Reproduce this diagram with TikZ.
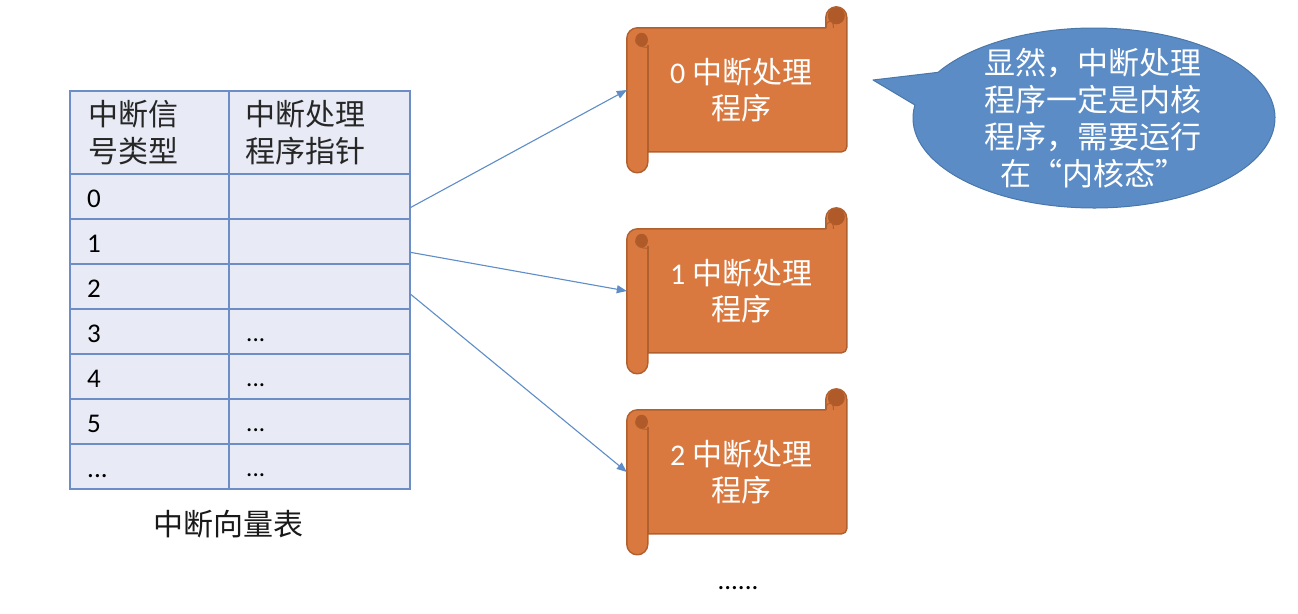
\documentclass[tikz,border=0pt]{standalone}
\usepackage{fontspec}
\setmainfont{Carlito}
\newfontfamily\cjk{Noto Sans CJK SC}
\usetikzlibrary{arrows.meta,calc}
\definecolor{tblfill}{HTML}{E8EBF5}
\definecolor{tblline}{HTML}{6C8DC6}
\definecolor{arrowblue}{HTML}{5E8DC8}
\definecolor{scrollfill}{HTML}{D9793F}
\definecolor{scrolldark}{HTML}{B05A29}
\definecolor{scrollline}{HTML}{B0602E}
\definecolor{calloutfill}{HTML}{5B8CC6}
\definecolor{calloutline}{HTML}{4A77AA}
\newcommand\drawscroll[1]{%
  \begin{scope}[shift={(#1.north west)}]
    \filldraw[fill=scrollfill, draw=scrollline, line width=1.4pt, line join=round]
      (0,31.5) arc[start angle=180, end angle=270, radius=10.5]
      -- (199,21) -- (199,10.5) arc[start angle=180, end angle=360, radius=10.5]
      -- (220,140) arc[start angle=0, end angle=90, radius=5]
      -- (21,145) -- (21,155.5) arc[start angle=0, end angle=180, radius=10.5]
      -- cycle;
    % top-right curl
    \fill[scrolldark] (209.5,9) circle[radius=8.5];
    \filldraw[fill=scrollfill, draw=scrollline, line width=1pt]
      (199.5,21) -- (199.5,18) arc[start angle=180, end angle=360, radius=3.5] -- (206.5,21);
    % top-left curl
    \fill[scrolldark] (14.8,33) ellipse[x radius=6.3, y radius=7];
    \draw[scrollline, line width=1pt] (8.6,33) .. controls (8.8,38) and (13,40.5) .. (21,40.5);
    \draw[scrollline, line width=1.4pt] (21,38) -- (21,145);
  \end{scope}}
\begin{document}
\begin{tikzpicture}[x=1pt, y=-1pt,
  cell/.style={draw=tblline, fill=tblfill, line width=1.8pt, inner sep=0pt, anchor=north west},
  lbl/.style={font=\fontsize{27}{30}\selectfont, text=black, inner sep=0pt, anchor=base west},
  hdr/.style={font=\cjk\fontsize{30}{37}\selectfont, text=black!85, align=left, inner sep=0pt, anchor=west},
  conn/.style={draw=arrowblue, line width=1.1pt, -{Triangle[length=10pt,width=8pt]}},
  scrollbox/.style={minimum width=220pt, minimum height=166pt, inner sep=0pt},
  scrolltext/.style={font=\fontsize{30}{36}\selectfont, text=white, align=center, inner sep=0pt},
  callouttext/.style={font=\cjk\fontsize{31}{37}\selectfont, text=white, align=center, inner sep=0pt}]
\useasboundingbox (0,0) rectangle (1298,613);
\fill[white] (0,0) rectangle (1298,613);

% table header
\node[cell, minimum width=159pt, minimum height=83pt] (h1) at (69,90) {};
\node[cell, minimum width=181pt, minimum height=83pt] (h2) at (228,90) {};
\node[hdr] (h1t) at (88,132.5) {中断信\\号类型};
\node[hdr] (h2t) at (245,132.5) {中断处理\\程序指针};

% table rows
\foreach \lab/\ptr [count=\i from 0] in {0/{},1/{},2/{},3/{...},4/{...},5/{...},{...}/{...}} {
  \node[cell, minimum width=159pt, minimum height=45pt] (t\i) at (69,{173+45*\i}) {};
  \node[cell, minimum width=181pt, minimum height=45pt] (p\i) at (228,{173+45*\i}) {};
  \node[lbl] (tl\i) at (87,{173+45*\i+34}) {\lab};
  \node[lbl, font=\fontsize{25}{28}\selectfont] (pl\i) at (246,{173+45*\i+33}) {\ptr};
}
\node[font=\cjk\fontsize{30}{36}\selectfont, text=black!90] (cap) at (228,524) {中断向量表};

% scrolls
\node[scrollbox] (s0) at (737,90) {};
\node[scrollbox] (s1) at (737,291) {};
\node[scrollbox] (s2) at (737,472) {};
\drawscroll{s0}
\drawscroll{s1}
\drawscroll{s2}
\node[scrolltext] (s0t) at ([xshift=4pt]s0.center) {0 {\cjk 中断处理}\\{\cjk 程序}};
\node[scrolltext] (s1t) at ([xshift=4pt]s1.center) {1 {\cjk 中断处理}\\{\cjk 程序}};
\node[scrolltext] (s2t) at ([xshift=4pt]s2.center) {2 {\cjk 中断处理}\\{\cjk 程序}};

% connectors
\draw[conn] ([yshift=-11pt]p0.east) -- (s0.west);
\draw[conn] ([yshift=-11pt]p1.east) -- (s1.west);
\draw[conn] ([yshift=-8pt]p2.east) -- (s2.west);

\node[font=\fontsize{27}{30}\selectfont, text=black] (more) at (738,588) {......};

% callout
\coordinate (cc) at (1094,118);
\coordinate (tip) at (873,80);
\filldraw[fill=calloutfill, draw=calloutline, line width=1pt, line join=round]
  ($(cc)+(210.5:181 and 90)$) -- (tip) -- ($(cc)+(188.3:181 and 90)$)
  arc[start angle=188.3, end angle=-149.5, x radius=181, y radius=90] -- cycle;
\node[callouttext] (ct) at (1093,118) {显然，中断处理\\程序一定是内核\\程序，需要运行\\在“内核态”};
\end{tikzpicture}
\end{document}
